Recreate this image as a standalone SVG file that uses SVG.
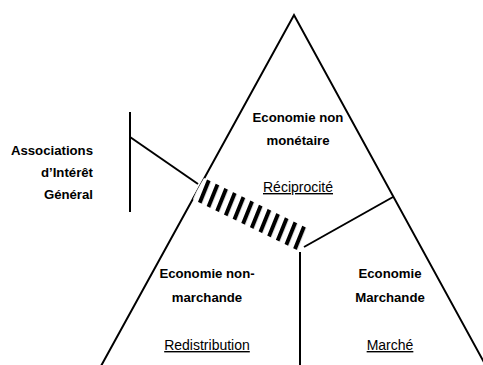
<svg xmlns="http://www.w3.org/2000/svg" width="483" height="365" viewBox="0 0 483 365">
<defs>
<style>
.ln{stroke:#000;stroke-width:2;fill:none}
.b{font-family:"Liberation Sans",Arial,sans-serif;font-size:13.2px;font-weight:bold;fill:#000}
.r{font-family:"Liberation Sans",Arial,sans-serif;font-size:14px;fill:#000;text-decoration:underline}
</style>
<pattern id="hatch" patternUnits="userSpaceOnUse" width="9.6" height="11" patternTransform="rotate(22)">
<rect width="9.6" height="11" fill="#fff"/>
<rect x="0" y="0" width="4" height="11" fill="#000"/>
</pattern>
</defs>
<rect width="483" height="365" fill="#fff"/>
<g id="triangle">
<polyline class="ln" points="101,366 294,15 486,366"/>
</g>
<g id="connectors">
<line class="ln" x1="130" y1="112" x2="130" y2="212"/>
<line class="ln" x1="130" y1="137" x2="198" y2="184"/>
<line class="ln" x1="393" y1="197" x2="304" y2="247"/>
<line class="ln" x1="300" y1="252" x2="300" y2="366"/>
</g>
<g id="band">
<polygon points="204,178 309,229 301,252 192,199" fill="url(#hatch)"/>
</g>
<g id="top">
<text class="b" x="298" y="122" text-anchor="middle">Economie non</text>
<text class="b" x="298" y="145" text-anchor="middle">monétaire</text>
<text class="r" x="298" y="192" text-anchor="middle">Réciprocité</text>
</g>
<g id="left">
<text class="b" x="207" y="278" text-anchor="middle">Economie non-</text>
<text class="b" x="207" y="302" text-anchor="middle">marchande</text>
<text class="r" x="207" y="350" text-anchor="middle">Redistribution</text>
</g>
<g id="right">
<text class="b" x="390" y="278" text-anchor="middle">Economie</text>
<text class="b" x="390" y="302" text-anchor="middle">Marchande</text>
<text class="r" x="390" y="350" text-anchor="middle">Marché</text>
</g>
<g id="associations">
<text class="b" x="93" y="155" text-anchor="end">Associations</text>
<text class="b" x="93" y="177" text-anchor="end">d’Intérêt</text>
<text class="b" x="93" y="199" text-anchor="end">Général</text>
</g>
</svg>
